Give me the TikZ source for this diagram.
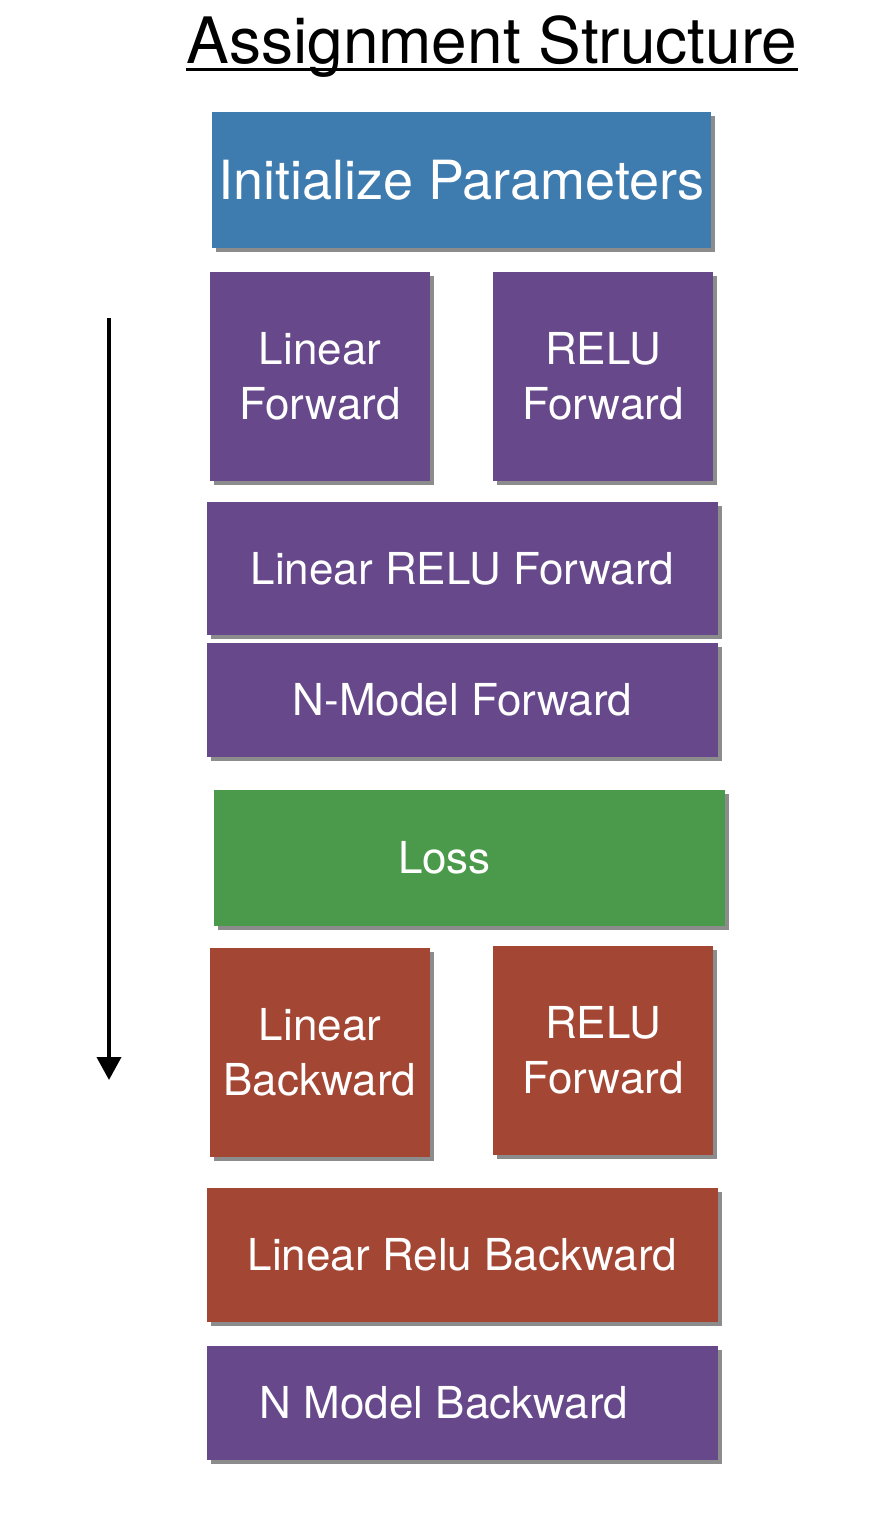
\documentclass[tikz,border=0pt]{standalone}
\usepackage{fontspec}
\setmainfont{TeX Gyre Heros}
\usetikzlibrary{arrows.meta,shadows}

\definecolor{initblue}{HTML}{3E7BAF}
\definecolor{fwdpurple}{HTML}{67498B}
\definecolor{lossgreen}{HTML}{4B9A4B}
\definecolor{bwdred}{HTML}{A44634}

\begin{document}
\begin{tikzpicture}[
  x=0.5pt, y=-0.5pt,
  box/.style={fill=#1, text=white, align=center, inner sep=0pt,
    font=\fontsize{22}{27.5}\selectfont,
    drop shadow={shadow xshift=2pt, shadow yshift=-2.2pt, fill=black, opacity=0.45}},
  small/.style={box=#1, minimum width=110pt, minimum height=104.5pt},
  wide/.style={box=#1, minimum width=255.5pt, minimum height=67pt},
  slim/.style={box=#1, minimum width=255.5pt, minimum height=57pt},
  flow/.style={-{Triangle[length=11.5pt, width=12pt]}, line width=2pt}
]
\useasboundingbox (0,0) rectangle (876,1528);

% title
\node[anchor=base, inner sep=0pt, font=\fontsize{32}{38}\selectfont] (title) at (492,63) {Assignment Structure};
\draw[line width=1.5pt] ([yshift=-3pt]title.base west) -- ([yshift=-3pt]title.base east);

% forward pass
\node[box=initblue, minimum width=249.5pt, minimum height=68pt, font=\fontsize{27}{32}\selectfont] (init) at (461.5,180) {Initialize Parameters};
\node[small=fwdpurple] (linfwd) at (320,376) {Linear\\Forward};
\node[small=fwdpurple] (relufwd) at (603,376) {RELU\\Forward};
\node[wide=fwdpurple, minimum height=66.5pt] (linrelufwd) at (462.5,568.5) {Linear RELU Forward};
\node[slim=fwdpurple] (nmodfwd) at (462.5,700) {N-Model Forward};

% loss
\node[wide=lossgreen, minimum height=68pt] (loss) at (469.5,858) {Loss\hspace*{25pt}};

% backward pass
\node[small=bwdred] (linbwd) at (320,1052.5) {Linear\\Backward};
\node[small=bwdred] (relubwd) at (603,1050.5) {RELU\\Forward};
\node[wide=bwdred] (linrelubwd) at (462.5,1255) {Linear Relu Backward};
\node[slim=fwdpurple] (nmodbwd) at (462.5,1403) {N Model Backward\hspace*{18.5pt}};

% order of the steps
\coordinate (start) at (109,318);
\coordinate (finish) at (109,1080);
\draw[flow] (start) -- (finish);
\end{tikzpicture}
\end{document}
